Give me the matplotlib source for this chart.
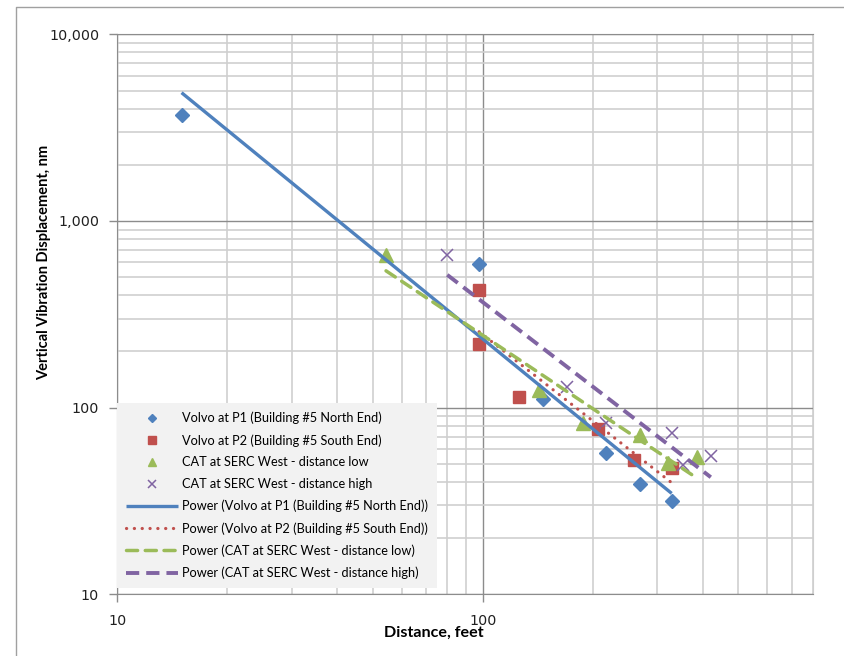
import numpy as np
from matplotlib import pyplot as plt
from matplotlib.ticker import FixedLocator, FixedFormatter, NullFormatter
from matplotlib.lines import Line2D

# Data (distance in feet, displacement in nm)
p1_dist = [15, 97.5, 146, 218, 269, 329]
p1_disp = [3700, 586, 111, 57, 39, 31.6]

p2_dist = [97.8, 97.8, 126, 207, 259, 329]
p2_disp = [427, 219, 114.5, 76.6, 52.5, 47.8]

cat_low_dist = [54.4, 143, 188, 269, 322, 385]
cat_low_disp = [658, 124, 82.5, 71.5, 50.7, 54.7]

cat_high_dist = [80, 170, 218, 329, 354, 421]
cat_high_disp = [660, 129.6, 82.5, 73, 49.3, 55]

names = ['Volvo at P1 (Building #5 North End)',
         'Volvo at P2 (Building #5 South End)',
         'CAT at SERC West - distance low',
         'CAT at SERC West - distance high']

x_ticks = [10, 100]
x_labels = ['10', '100']
y_ticks = [10, 100, 1000, 10000]
y_labels = ['10', '100', '1,000', '10,000']

blue = '#4F81BD'
red = '#C0504D'
green = '#9BBB59'
purple = '#8064A2'

fig = plt.figure(figsize=(8.45, 6.56), dpi=100)
ax = fig.add_axes([117.2 / 845, 1 - 594.4 / 656, (812.7 - 117.2) / 845, (594.4 - 34.3) / 656])
ax.set_xscale('log')
ax.set_yscale('log')
ax.set_xlim(10, 800)
ax.set_ylim(10, 10000)

# grid
ax.grid(True, which='major', color='#8C8C8C', lw=1.0, zorder=0)
ax.grid(True, which='minor', color='#CFCFCF', lw=1.2, zorder=0)
ax.set_axisbelow(True)

# scatter markers
ax.plot(p1_dist, p1_disp, 'D', color=blue, ms=7.5, mec=blue, ls='none', label=names[0], zorder=3)
ax.plot(p2_dist, p2_disp, 's', color=red, ms=9, mec=red, ls='none', label=names[1], zorder=3)
ax.plot(cat_low_dist, cat_low_disp, '^', color=green, ms=10, mec=green, ls='none', label=names[2], zorder=3)
ax.plot(cat_high_dist, cat_high_disp, 'x', color=purple, ms=9, mew=1.1, ls='none', label=names[3], zorder=3)


def power_fit(x, y):
    # Excel style power trendline: least squares in log-log space
    lx = np.log10(x)
    b, a = np.polyfit(lx, np.log10(y), 1)
    xs = np.logspace(lx.min(), lx.max(), 50)
    return xs, 10 ** (a + b * np.log10(xs))


xs, ys = power_fit(p1_dist, p1_disp)
ax.plot(xs, ys, color=blue, lw=2.4, solid_capstyle='butt', label='Power (' + names[0] + ')', zorder=4)
xs, ys = power_fit(p2_dist, p2_disp)
ax.plot(xs, ys, color=red, lw=2.3, dashes=(0.05, 2.4), dash_capstyle='round',
        label='Power (' + names[1] + ')', zorder=4)
xs, ys = power_fit(cat_low_dist, cat_low_disp)
ax.plot(xs, ys, color=green, lw=2.5, dashes=(3.2, 2.2), dash_capstyle='round',
        label='Power (' + names[2] + ')', zorder=4)
xs, ys = power_fit(cat_high_dist, cat_high_disp)
ax.plot(xs, ys, color=purple, lw=2.8, dashes=(3.4, 1.8), dash_capstyle='butt',
        label='Power (' + names[3] + ')', zorder=4)

# axes and ticks
ax.xaxis.set_major_locator(FixedLocator(x_ticks))
ax.xaxis.set_major_formatter(FixedFormatter(x_labels))
ax.xaxis.set_minor_formatter(NullFormatter())
ax.yaxis.set_major_locator(FixedLocator(y_ticks))
ax.yaxis.set_major_formatter(FixedFormatter(y_labels))
ax.yaxis.set_minor_formatter(NullFormatter())
ax.tick_params(which='major', length=6, width=1, color='#8C8C8C', labelsize=10.3, labelcolor='#202020')
ax.tick_params(axis='x', which='major', pad=8)
ax.tick_params(axis='y', which='major', pad=7)
ax.tick_params(which='minor', length=0)
for s in ['left', 'bottom']:
    ax.spines[s].set_color('#8C8C8C')
ax.spines['top'].set_color('#8C8C8C')
ax.spines['right'].set_color('#CFCFCF')

fig.text(434 / 845, 1 - 633 / 656, 'Distance, feet', family='Lato', weight='bold',
         fontsize=11.6, ha='center', va='center')
fig.text(44 / 845, 1 - 262 / 656, 'Vertical Vibration Displacement, nm', family='Lato',
         weight='bold', fontsize=10.5, rotation=90, ha='center', va='center')

leg = ax.legend(loc='lower left', bbox_to_anchor=(117.5 / 845, 1 - 588 / 656),
                bbox_transform=fig.transFigure, borderaxespad=0, frameon=True,
                fancybox=False, prop={'family': 'Lato', 'size': 9.2},
                handlelength=4.0, handletextpad=0.35, labelspacing=0.76,
                borderpad=0.7, markerscale=0.6, numpoints=1)
leg.get_frame().set_facecolor('#F2F2F2')
leg.get_frame().set_edgecolor('none')
leg.get_frame().set_alpha(1)
leg.set_zorder(5)

# outer chart border (left and top)
fig.add_artist(Line2D([16 / 845, 16 / 845, 1.0], [0.0, 1 - 7 / 656, 1 - 7 / 656],
                      transform=fig.transFigure, color='#A0A0A0', lw=1))

fig.savefig('out.png', dpi=100)
